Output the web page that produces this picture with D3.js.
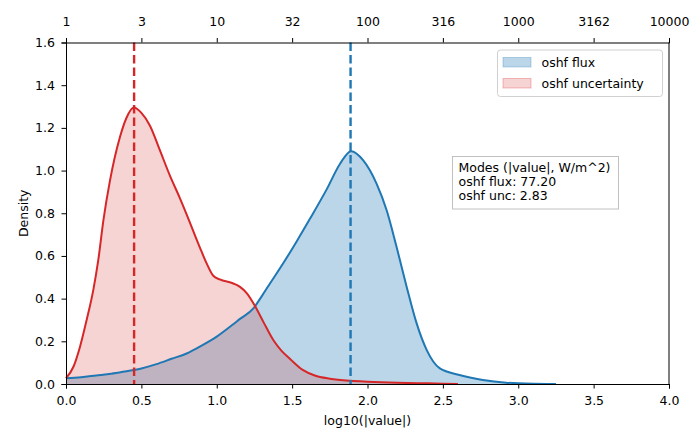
<!DOCTYPE html>
<html><head><meta charset="utf-8">
<script src="https://cdn.jsdelivr.net/npm/d3@7"></script>
<style>body{margin:0;background:#fff}svg{display:block}text{font-family:"DejaVu Sans",sans-serif;}</style>
</head><body><svg id="c" width="693" height="433"></svg>
<script>
// log10(|value|) grid and KDE densities
const fluxX = [0.0,0.1,0.2,0.3,0.4,0.5,0.6,0.7,0.8,0.9,1.0,1.1,1.154,1.243,1.3,1.353,1.442,1.53,1.619,1.73,1.818,1.891,1.972,2.06,2.127,2.193,2.26,2.326,2.393,2.48,2.61,2.765,2.92,3.1,3.25];
const fluxY = [0.027,0.032,0.04,0.048,0.06,0.073,0.093,0.118,0.143,0.18,0.222,0.275,0.305,0.354,0.413,0.471,0.567,0.668,0.775,0.913,1.032,1.091,1.048,0.939,0.814,0.642,0.455,0.284,0.159,0.073,0.042,0.019,0.006,0.001,0.0];
const uncX = [0.0,0.05,0.093,0.137,0.181,0.214,0.248,0.292,0.358,0.40,0.45,0.50,0.557,0.62,0.69,0.756,0.80,0.845,0.889,0.933,0.977,1.02,1.11,1.154,1.2,1.25,1.31,1.375,1.43,1.49,1.57,1.65,1.75,1.89,2.0,2.2,2.4,2.6];
const uncY = [0.027,0.082,0.175,0.30,0.44,0.58,0.767,0.954,1.157,1.245,1.295,1.27,1.21,1.10,0.975,0.87,0.795,0.715,0.638,0.565,0.507,0.49,0.471,0.455,0.425,0.37,0.29,0.206,0.155,0.115,0.066,0.04,0.025,0.015,0.011,0.006,0.003,0.0];
const fluxMode = 77.20, uncMode = 2.83;
const xTicks = [0.0,0.5,1.0,1.5,2.0,2.5,3.0,3.5,4.0];
const xTickLabels = ["0.0","0.5","1.0","1.5","2.0","2.5","3.0","3.5","4.0"];
const topTickLabels = ["1","3","10","32","100","316","1000","3162","10000"];
const yTicks = [0.0,0.2,0.4,0.6,0.8,1.0,1.2,1.4,1.6];
const seriesNames = ["oshf flux","oshf uncertainty"];
const boxLines = ["Modes (|value|, W/m^2)","oshf flux: 77.20","oshf unc: 2.83"];

const BLUE="#1f77b4", RED="#d62728";
const L=66,R=669,T=42.5,B=384;
const svg=d3.select("#c");
const x=d3.scaleLinear().domain([0,4]).range([L,R]);
const y=d3.scaleLinear().domain([0,1.6]).range([B,T]);
const fs=12.5;

const flux=fluxX.map((v,i)=>[v,fluxY[i]]);
const unc=uncX.map((v,i)=>[v,uncY[i]]);
const area=d3.area().x(d=>x(d[0])).y0(y(0)).y1(d=>y(d[1])).curve(d3.curveMonotoneX);
const line=d3.line().x(d=>x(d[0])).y(d=>y(d[1])).curve(d3.curveMonotoneX);

svg.append("path").attr("d",area(flux)).attr("fill",BLUE).attr("fill-opacity",0.3);
svg.append("path").attr("d",area(unc)).attr("fill",RED).attr("fill-opacity",0.2);
svg.append("path").attr("d",line(flux)).attr("fill","none").attr("stroke",BLUE).attr("stroke-width",2);
svg.append("path").attr("d",line(unc)).attr("fill","none").attr("stroke",RED).attr("stroke-width",2);

[[uncMode,RED],[fluxMode,BLUE]].forEach(([m,c])=>{
  svg.append("line").attr("x1",x(Math.log10(m))).attr("x2",x(Math.log10(m)))
    .attr("y1",T).attr("y2",B).attr("stroke",c).attr("stroke-width",2.4)
    .attr("stroke-dasharray","8.5,4");
});

// axes
const ax=svg.append("g").attr("transform",`translate(0,${B})`)
  .call(d3.axisBottom(x).tickValues(xTicks).tickFormat((d,i)=>xTickLabels[i]).tickSize(4.5).tickPadding(7.5));
const at=svg.append("g").attr("transform",`translate(0,${T})`)
  .call(d3.axisTop(x).tickValues(xTicks).tickFormat((d,i)=>topTickLabels[i]).tickSize(4.5).tickPadding(12));
const ay=svg.append("g").attr("transform",`translate(${L},0)`)
  .call(d3.axisLeft(y).tickValues(yTicks).tickFormat(d3.format(".1f")).tickSize(4.5).tickPadding(6.5));
svg.append("line").attr("x1",R).attr("x2",R).attr("y1",T).attr("y2",B).attr("stroke","#000").attr("stroke-width",1);
[ax,at,ay].forEach(g=>{
  g.selectAll("text").attr("font-size",fs).attr("fill","#000").attr("font-family","DejaVu Sans");
  g.selectAll("line").attr("stroke","#000");
  g.select(".domain").attr("stroke","#000");
});

svg.append("text").attr("x",(L+R)/2).attr("y",425).attr("text-anchor","middle").attr("font-size",fs).text("log10(|value|)");
svg.append("text").attr("transform",`translate(27.5,${(T+B)/2}) rotate(-90)`).attr("text-anchor","middle").attr("font-size",fs).text("Density");

// legend
const lg=svg.append("g");
lg.append("rect").attr("x",497.5).attr("y",50).attr("width",165).attr("height",46.5).attr("rx",3)
  .attr("fill","#fff").attr("fill-opacity",0.8).attr("stroke","#d0d0d0");
[BLUE,RED].forEach((c,i)=>{
  lg.append("rect").attr("x",503).attr("y",57.5+i*21).attr("width",28).attr("height",9.5)
    .attr("fill",c).attr("fill-opacity",i?0.2:0.3).attr("stroke",c).attr("stroke-opacity",0.3);
  lg.append("text").attr("x",541.5).attr("y",67+i*21).attr("font-size",fs).text(seriesNames[i]);
});

// mode text box
const tb=svg.append("g");
tb.append("rect").attr("x",452.5).attr("y",156.5).attr("width",166).attr("height",52.5)
  .attr("fill","#fff").attr("fill-opacity",0.8).attr("stroke","#c0c0c0");
boxLines.forEach((t,i)=>tb.append("text").attr("x",458.5).attr("y",171.5+i*14.2).attr("font-size",fs).text(t));
</script></body></html>
